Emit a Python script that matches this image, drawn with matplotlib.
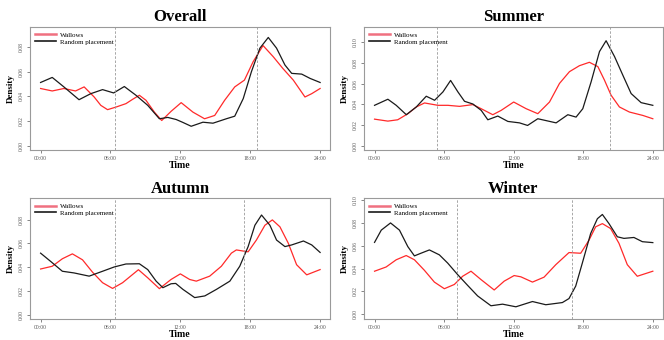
import matplotlib
matplotlib.use("Agg")
import matplotlib.pyplot as plt

plt.rcParams["font.family"] = ["Liberation Serif", "DejaVu Serif"]

# Hour-of-day density curves: wallow use vs. random placement
overall_wallow_hours = [0, 1.0, 2.0, 3.0, 3.74, 4.6, 5.17, 5.75, 6.47, 7.33, 7.9, 8.48, 9.05, 9.77,
                        10.4, 11.2, 12.07, 13.08, 14.08, 14.95, 15.8, 16.67, 17.5, 18.25, 19.1,
                        19.97, 20.8, 21.7, 22.7, 23.28, 24]
overall_wallow_density = [0.0465, 0.0445, 0.0465, 0.0445, 0.0478, 0.0396, 0.0328, 0.0293, 0.0314,
                          0.0342, 0.0377, 0.041, 0.0369, 0.0273, 0.0205, 0.0279, 0.035, 0.0273,
                          0.0219, 0.0246, 0.0369, 0.0478, 0.0533, 0.0683, 0.0814, 0.0724, 0.0628,
                          0.0533, 0.0396, 0.0423, 0.0465]
overall_random_hours = [0, 1.0, 2.0, 3.3, 4.31, 5.32, 6.27, 7.19, 8.19, 9.2, 10.2, 10.92, 11.64,
                        12.2, 12.93, 13.94, 14.8, 15.95, 16.67, 17.4, 18.1, 18.83, 19.55, 20.26,
                        20.98, 21.56, 22.42, 23.14, 24]
overall_random_density = [0.0514, 0.0555, 0.0478, 0.0374, 0.0423, 0.0456, 0.0429, 0.0481, 0.041,
                          0.0328, 0.0219, 0.023, 0.0213, 0.019, 0.0158, 0.0191, 0.0183, 0.0219,
                          0.024, 0.0383, 0.0601, 0.0793, 0.088, 0.0793, 0.0656, 0.0588, 0.0582,
                          0.0547, 0.0514]

summer_wallow_hours = [0, 1.15, 2.0, 2.88, 3.6, 4.31, 5.47, 6.33, 7.33, 8.48, 9.2, 10.2, 10.92,
                       12.0, 13.08, 14.08, 15.09, 15.95, 16.81, 17.67, 18.53, 19.26, 19.83, 20.4,
                       21.12, 21.98, 23.14, 24]
summer_wallow_density = [0.0257, 0.0238, 0.0251, 0.031, 0.0375, 0.0414, 0.0391, 0.0391, 0.0381,
                         0.0398, 0.0358, 0.030, 0.0342, 0.0423, 0.0358, 0.031, 0.0423, 0.0603,
                         0.0717, 0.0775, 0.0808, 0.0766, 0.0635, 0.0489, 0.0375, 0.0326, 0.0293,
                         0.0261]
summer_random_hours = [0, 1.15, 1.87, 2.74, 3.6, 4.46, 5.18, 5.9, 6.56, 7.19, 7.76, 8.48, 9.2,
                       9.77, 10.63, 11.5, 12.5, 13.2, 14.08, 15.66, 16.67, 17.38, 17.96, 18.68,
                       19.4, 19.97, 20.7, 21.41, 22.13, 22.99, 24]
summer_random_density = [0.0391, 0.045, 0.0391, 0.030, 0.0375, 0.0479, 0.044, 0.0521, 0.0632,
                         0.0521, 0.043, 0.0404, 0.0342, 0.0251, 0.0287, 0.0235, 0.0221, 0.0196,
                         0.0261, 0.0221, 0.030, 0.0277, 0.0358, 0.0619, 0.0912, 0.1017, 0.0863,
                         0.0684, 0.0505, 0.0417, 0.0391]

autumn_wallow_hours = [0, 1.0, 1.87, 2.73, 3.6, 4.46, 5.32, 6.18, 7.04, 8.4, 9.2, 10.2, 11.2,
                       12.0, 12.8, 13.37, 14.52, 15.52, 16.38, 16.81, 17.82, 18.53, 19.26, 19.9,
                       20.55, 21.27, 21.98, 22.85, 24]
autumn_wallow_density = [0.0386, 0.0409, 0.0472, 0.0513, 0.0463, 0.0359, 0.0271, 0.0223, 0.0271,
                         0.038, 0.0312, 0.0221, 0.0298, 0.0345, 0.0298, 0.0284, 0.0326, 0.0409,
                         0.0519, 0.0546, 0.053, 0.0629, 0.0753, 0.0798, 0.074, 0.0602, 0.0422,
                         0.0337, 0.0381]
autumn_random_hours = [0, 0.86, 1.87, 2.87, 4.17, 5.32, 6.32, 7.33, 8.48, 9.2, 9.92, 10.5, 11.2,
                       11.6, 12.22, 13.23, 14.1, 15.1, 16.25, 17.1, 17.82, 18.4, 18.97, 19.69,
                       20.26, 20.98, 21.56, 22.57, 23.28, 24]
autumn_random_density = [0.0519, 0.045, 0.0367, 0.0353, 0.0326, 0.0367, 0.0403, 0.0428, 0.043,
                         0.0381, 0.0284, 0.0229, 0.0262, 0.0265, 0.0215, 0.0146, 0.016, 0.0215,
                         0.0284, 0.0409, 0.0574, 0.0753, 0.0839, 0.0753, 0.0629, 0.0574, 0.0588,
                         0.0621, 0.0588, 0.0525]

winter_wallow_hours = [0, 1.0, 1.87, 2.73, 3.44, 4.3, 5.16, 6.02, 6.88, 7.6, 8.32, 9.18, 10.32,
                       11.18, 12.04, 12.62, 13.62, 14.62, 15.63, 16.77, 17.78, 18.5, 19.07, 19.65,
                       20.36, 21.08, 21.8, 22.66, 24]
winter_wallow_density = [0.0377, 0.0414, 0.0477, 0.0514, 0.0477, 0.0385, 0.0282, 0.0224, 0.0261,
                         0.0333, 0.0377, 0.0304, 0.0213, 0.029, 0.0339, 0.0328, 0.0282, 0.0325,
                         0.0434, 0.054, 0.0534, 0.0649, 0.0765, 0.0793, 0.075, 0.0621, 0.0434,
                         0.0333, 0.0377]
winter_random_hours = [0, 0.58, 1.38, 2.15, 2.87, 3.44, 4.0, 4.73, 5.59, 6.31, 7.17, 8.03, 8.89,
                       10.04, 11.04, 12.19, 13.62, 14.77, 16.2, 16.77, 17.35, 17.92, 18.64, 19.22,
                       19.65, 20.22, 20.94, 21.51, 22.37, 23.1, 24]
winter_random_density = [0.0629, 0.0736, 0.0799, 0.0736, 0.0592, 0.0511, 0.0534, 0.0563, 0.052,
                         0.0448, 0.0347, 0.0253, 0.0161, 0.0075, 0.0089, 0.0066, 0.0112, 0.0084,
                         0.0103, 0.0138, 0.0247, 0.0448, 0.0707, 0.0836, 0.0873, 0.0793, 0.0678,
                         0.0664, 0.0672, 0.0635, 0.0627]

# sunrise / sunset reference lines (hours)
overall_sun = [6.41, 18.54]
summer_sun = [5.41, 20.27]
autumn_sun = [6.35, 17.45]
winter_sun = [7.14, 17.0]

hour_ticks = [0, 6, 12, 18, 24]
hour_labels = ["00:00", "06:00", "12:00", "18:00", "24:00"]
ticks_to_008 = [0.0, 0.02, 0.04, 0.06, 0.08]
ticks_to_010 = [0.0, 0.02, 0.04, 0.06, 0.08, 0.10]


def draw_panel(ax, title, w_hours, w_density, r_hours, r_density, sun_times, yticks, ylim):
    ax.plot(w_hours, w_density, color="#ff2a2a", lw=0.9, label="Wallows",
            solid_joinstyle="round")
    ax.plot(r_hours, r_density, color="#1a1a1a", lw=0.9, label="Random placement",
            solid_joinstyle="round")
    for t in sun_times:
        ax.axvline(t, color="#999999", lw=0.6, ls=(0, (3, 2)))

    ax.set_xlim(-0.92, 24.85)
    ax.set_ylim(*ylim)
    ax.set_xticks(hour_ticks)
    ax.set_xticklabels(hour_labels)
    ax.set_yticks(yticks)
    ax.set_yticklabels([f"{v:.2f}" for v in yticks], rotation=90, va="center")
    ax.tick_params(labelsize=4, colors="#555555", length=2.5, width=0.5, pad=2)

    for spine in ax.spines.values():
        spine.set_color("#9a9a9a")
        spine.set_linewidth(0.8)

    ax.set_title(title, fontsize=12, fontweight="bold", pad=4)
    ax.set_xlabel("Time", fontsize=7, fontweight="bold", labelpad=0)
    ax.set_ylabel("Density", fontsize=6.5, fontweight="bold", labelpad=3)

    leg = ax.legend(loc="upper left", frameon=False, fontsize=5, handlelength=3.0,
                    handletextpad=0.7, borderaxespad=0.3, labelspacing=0.15)
    leg.get_lines()[0].set_color("#f07080")
    leg.get_lines()[0].set_linewidth(1.8)
    leg.get_lines()[1].set_linewidth(1.2)


fig = plt.figure(figsize=(6.64, 3.4), dpi=100)

ax_overall = fig.add_axes([0.045, 0.5588, 0.452, 0.3618])
ax_summer = fig.add_axes([0.548, 0.5588, 0.450, 0.3618])
ax_autumn = fig.add_axes([0.045, 0.062, 0.452, 0.355])
ax_winter = fig.add_axes([0.548, 0.062, 0.450, 0.355])

draw_panel(ax_overall, "Overall", overall_wallow_hours, overall_wallow_density,
           overall_random_hours, overall_random_density, overall_sun,
           ticks_to_008, (-0.0035, 0.0965))
draw_panel(ax_summer, "Summer", summer_wallow_hours, summer_wallow_density,
           summer_random_hours, summer_random_density, summer_sun,
           ticks_to_010, (-0.0042, 0.115))
draw_panel(ax_autumn, "Autumn", autumn_wallow_hours, autumn_wallow_density,
           autumn_random_hours, autumn_random_density, autumn_sun,
           ticks_to_008, (-0.0033, 0.098))
draw_panel(ax_winter, "Winter", winter_wallow_hours, winter_wallow_density,
           winter_random_hours, winter_random_density, winter_sun,
           ticks_to_010, (-0.004, 0.1015))

fig.savefig("out.png", dpi=100)
